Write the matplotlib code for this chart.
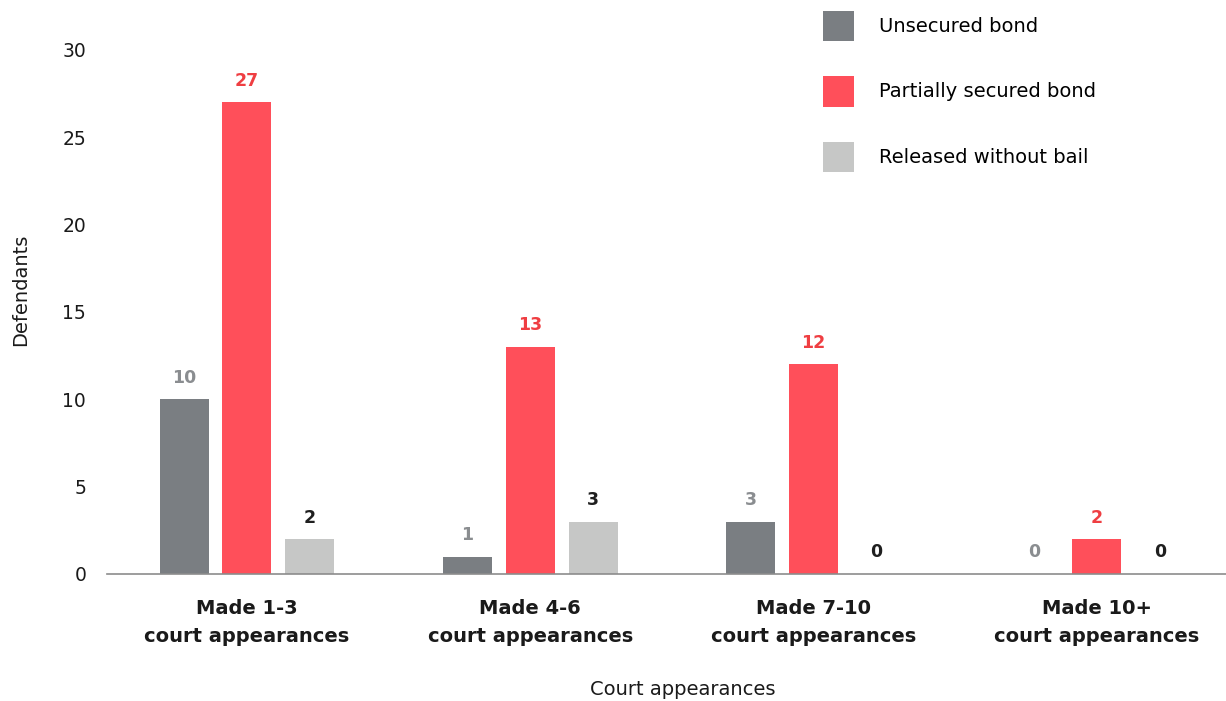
import numpy as np
import matplotlib.pyplot as plt
from matplotlib.patches import Patch

plt.rcParams['font.family'] = ['DejaVu Sans']

# ---- data ----
groups = ['Made 1-3\ncourt appearances', 'Made 4-6\ncourt appearances',
          'Made 7-10\ncourt appearances', 'Made 10+\ncourt appearances']
series = ['Unsecured bond', 'Partially secured bond', 'Released without bail']
unsecured = [10, 1, 3, 0]
partial = [27, 13, 12, 2]
released = [2, 3, 0, 0]

bar_colors = ['#7a7e82', '#ff4f5a', '#c6c7c6']
label_colors = ['#8a8d90', '#ef3e42', '#1f1f1f']

fig = plt.figure(figsize=(12.26, 7.01), dpi=100)
ax = fig.add_axes([0.0873, 0.1812, 0.9127, 0.7475])

x = np.arange(len(groups))
width = 0.173
step = 0.222

for k, vals in enumerate([unsecured, partial, released]):
    pos = x + (k - 1) * step
    ax.bar(pos, vals, width, color=bar_colors[k], label=series[k], zorder=2)
    for px, v in zip(pos, vals):
        ax.annotate(str(v), (px, v), xytext=(0, 9), textcoords='offset points',
                    ha='center', va='bottom', fontsize=12.5, fontweight='bold',
                    color=label_colors[k])

ax.set_xlim(-0.494, 3.456)
ax.set_ylim(0, 30)
ax.set_yticks([0, 5, 10, 15, 20, 25, 30])
ax.tick_params(axis='y', length=0, pad=15, labelsize=13.5, labelcolor='#1a1a1a')
ax.set_xticks(x)
ax.set_xticklabels(groups, fontsize=14, fontweight='bold', color='#1a1a1a',
                   linespacing=1.58)
ax.tick_params(axis='x', length=0, pad=18)

for s in ['top', 'right', 'left']:
    ax.spines[s].set_visible(False)
ax.spines['bottom'].set_color('#8c8c8c')
ax.spines['bottom'].set_linewidth(1.2)

fig.text(0.017, 0.587, 'Defendants', rotation=90, ha='center', va='center',
         fontsize=14, color='#1a1a1a')
fig.text(0.557, 0.0157, 'Court appearances', ha='center', va='center',
         fontsize=14, color='#1a1a1a')

handles = [Patch(facecolor=c, edgecolor='none') for c in bar_colors]
fig.legend(handles, series, loc='upper left', bbox_to_anchor=(0.671, 0.985),
           frameon=False, fontsize=14, handlelength=1.6, handleheight=2.04,
           handletextpad=1.3, labelspacing=1.8, borderaxespad=0,
           borderpad=0)

fig.savefig('out.png', dpi=100)
